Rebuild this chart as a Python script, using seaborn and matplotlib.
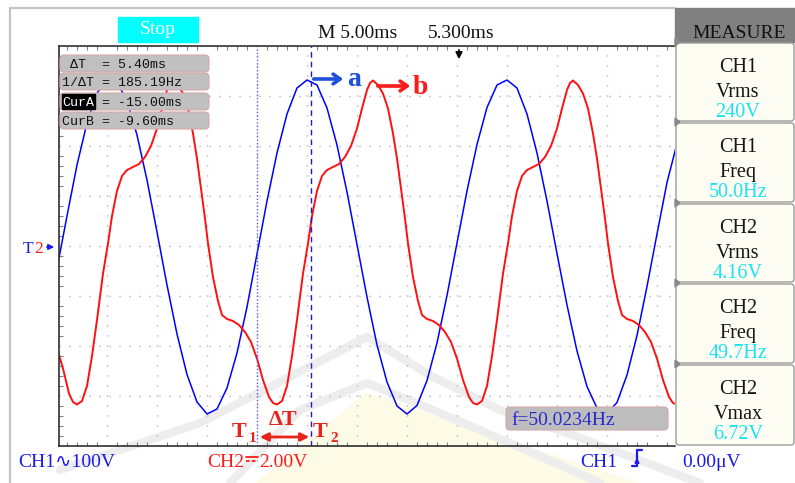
import matplotlib
matplotlib.use("Agg")
import matplotlib.pyplot as plt
import seaborn as sns
import numpy as np
from matplotlib.patches import Rectangle, FancyBboxPatch, Polygon

# ---- data (time in ms, value in divisions) ----
ch1_t = [-35, -34, -33, -32, -31, -30, -29, -28, -27, -26, -25, -24, -23, -22, -21, -20,
         -19, -18, -17, -16, -15, -14, -13, -12, -11, -10, -9, -8, -7, -6, -5, -4,
         -3, -2, -1, 0, 1, 2, 3, 4, 5, 6, 7, 8, 9, 10, 11, 12,
         13, 14, 15, 16, 17, 18, 19, 20, 21, 22, 23, 24, 25, 26, 27]
ch1_v = [-0.45, 0.60, 1.62, 2.46, 3.06, 3.32, 3.28, 2.90, 2.22, 1.32, 0.28, -0.78, -1.76, -2.57, -3.12, -3.36,
         -3.26, -2.84, -2.14, -1.22, -0.16, 0.90, 1.86, 2.64, 3.16, 3.32, 3.22, 2.76, 2.02, 1.08, 0.03, -1.02,
         -1.98, -2.72, -3.20, -3.36, -3.19, -2.69, -1.94, -0.99, 0.06, 1.10, 2.03, 2.77, 3.22, 3.32, 3.16, 2.64,
         1.86, 0.90, -0.15, -1.18, -2.10, -2.81, -3.24, -3.35, -3.13, -2.58, -1.79, -0.81, 0.24, 1.27, 2.05]

ch2_t = [-35.0, -34.4, -33.8, -33.4,
         -33.0, -32.5, -32.0, -31.5, -31.0, -30.4, -29.9, -29.5, -29.0, -28.5, -28.0, -27.4, -26.8, -26.2,
         -25.6, -25.0, -24.5, -24.0, -23.7, -23.4, -22.9, -22.4, -21.9, -21.4, -21.0, -20.6, -20.2, -19.9,
         -19.4, -18.9, -18.5, -18.0, -17.4, -16.8, -16.2, -15.6, -15.0, -14.4, -13.8, -13.4,
         -13.0, -12.5, -12.0, -11.5, -11.0, -10.4, -9.9, -9.5, -9.0, -8.5, -8.0, -7.4, -6.8, -6.2,
         -5.6, -5.0, -4.5, -4.0, -3.7, -3.4, -2.9, -2.4, -1.9, -1.4, -1.0, -0.6, -0.2, 0.1,
         0.6, 1.1, 1.5, 2.0, 2.6, 3.2, 3.8, 4.4, 5.0, 5.6, 6.2, 6.6,
         7.0, 7.5, 8.0, 8.5, 9.0, 9.6, 10.1, 10.5, 11.0, 11.5, 12.0, 12.6, 13.2, 13.8,
         14.4, 15.0, 15.5, 16.0, 16.3, 16.6, 17.1, 17.6, 18.1, 18.6, 19.0, 19.4, 19.8, 20.1,
         20.6, 21.1, 21.5, 22.0, 22.6, 23.2, 23.8, 24.4, 25.0, 25.6, 26.2, 26.6, 27.0]
ch2_v = [-2.05, -2.45, -2.95, -3.12,
         -3.17, -3.10, -2.80, -2.20, -1.48, -0.55, 0.05, 0.60, 1.10, 1.40, 1.52, 1.58, 1.64, 1.78,
         2.00, 2.35, 2.75, 3.12, 3.26, 3.31, 3.22, 3.05, 2.75, 2.25, 1.75, 1.15, 0.55, 0.05,
         -0.62, -1.10, -1.38, -1.46, -1.50, -1.58, -1.72, -1.92, -2.25, -2.68, -3.02, -3.14,
         -3.17, -3.10, -2.80, -2.20, -1.48, -0.55, 0.05, 0.60, 1.10, 1.40, 1.52, 1.58, 1.64, 1.78,
         2.00, 2.35, 2.75, 3.12, 3.26, 3.31, 3.22, 3.05, 2.75, 2.25, 1.75, 1.15, 0.55, 0.05,
         -0.62, -1.10, -1.38, -1.46, -1.50, -1.58, -1.72, -1.92, -2.25, -2.68, -3.02, -3.14,
         -3.17, -3.10, -2.80, -2.20, -1.48, -0.55, 0.05, 0.60, 1.10, 1.40, 1.52, 1.58, 1.64, 1.78,
         2.00, 2.35, 2.75, 3.12, 3.26, 3.31, 3.22, 3.05, 2.75, 2.25, 1.75, 1.15, 0.55, 0.05,
         -0.62, -1.10, -1.38, -1.46, -1.50, -1.58, -1.72, -1.92, -2.25, -2.68, -3.02, -3.14, -3.17]

cur_a = -15.00
cur_b = -9.60

cursor_rows = [" ΔT  = 5.40ms", "1/ΔT = 185.19Hz", "= -15.00ms", "CurB = -9.60ms"]
measure_rows = [("CH1", "Vrms", "240V"), ("CH1", "Freq", "50.0Hz"), ("CH2", "Vrms", "4.16V"),
                ("CH2", "Freq", "49.7Hz"), ("CH2", "Vmax", "6.72V")]

sns.set_style("white")
plt.rcParams['font.family'] = ['Liberation Serif', 'DejaVu Serif', 'DejaVu Sans']
SERIF = ['Liberation Serif', 'DejaVu Serif', 'DejaVu Sans']
MONO = ['Liberation Mono', 'DejaVu Sans Mono']
BLUE_T = '#1a1aee'
RED_T = '#ff1a1a'

fig = plt.figure(figsize=(7.95, 4.83), dpi=100)

# --- background layer: frame + faint watermark (pixel coords) ---
bg = fig.add_axes([0, 0, 1, 1], zorder=0)
bg.set_xlim(0, 795)
bg.set_ylim(483, 0)
bg.axis('off')
bg.add_patch(Polygon([(255, 483), (367, 392), (470, 428), (640, 483)], closed=True,
                     facecolor='#fdfae6', edgecolor='none'))
bg.plot([60, 200, 367, 433, 500, 567, 700], [470, 423, 337, 377, 410, 433, 483],
        color='#ededed', lw=6, solid_capstyle='round')
bg.plot([230, 300, 367, 433, 533, 600], [483, 410, 383, 410, 453, 483],
        color='#ededed', lw=6, solid_capstyle='round')
bg.plot([10, 10], [8, 483], color='#c4c4c4', lw=1.6)
bg.plot([10, 675], [8, 8], color='#c4c4c4', lw=1.6)

# --- waveform axes ---
ax = fig.add_axes([59 / 795, 1 - 446 / 483, 616 / 795, 400 / 483], zorder=1)
ax.patch.set_alpha(0)
sns.lineplot(x=ch1_t, y=ch1_v, ax=ax, color='#0000ff', lw=1.1, estimator=None)
sns.lineplot(x=ch2_t, y=ch2_v, ax=ax, color='#ff1010', lw=1.4, estimator=None)
ax.axvline(cur_a, color='#5a5aff', ls=(0, (1, 1.5)), lw=1.0)
ax.axvline(cur_b, color='#1a1ad8', ls=(0, (4, 3)), lw=1.0)
ax.set_xlim(-34.8, 26.8)
ax.set_ylim(-4, 4)
ax.set_xticks(np.arange(-30, 26, 5))
ax.set_yticks(np.arange(-3, 4, 1))
ax.set_xticks(np.arange(-34, 27, 1), minor=True)
ax.set_yticks(np.arange(-3.8, 4, 0.2), minor=True)
ax.grid(True, which='major', color='#a4a4a4', lw=1.0, ls=(0, (0.8, 6.4)))
ax.tick_params(which='major', length=0, labelbottom=False, labelleft=False)
ax.tick_params(which='minor', direction='in', length=3, color='#808080', width=0.8,
               top=True, bottom=True, left=True, right=False)
for side in ['left', 'top', 'bottom']:
    ax.spines[side].set_color('#303030')
    ax.spines[side].set_linewidth(1.2)
ax.spines['right'].set_visible(False)
ax.set_xlabel('')
ax.set_ylabel('')

# --- overlay layer: scope UI (pixel coords) ---
ov = fig.add_axes([0, 0, 1, 1], zorder=3)
ov.set_xlim(0, 795)
ov.set_ylim(483, 0)
ov.axis('off')
ov.patch.set_alpha(0)

# top bar
ov.add_patch(Rectangle((118, 17), 80, 25, color='#00ffff'))
ov.text(158, 30, 'Stop', color='white', ha='center', va='center', fontsize=14, family=SERIF)
ov.text(318, 38, 'M 5.00ms', color='#111111', fontsize=14, va='baseline', family=SERIF)
ov.text(428, 38, '5.300ms', color='#111111', fontsize=14, va='baseline', family=SERIF)
ov.annotate('', xy=(459, 62), xytext=(459, 47),
            arrowprops=dict(arrowstyle='-|>', color='black', lw=1.2, mutation_scale=10))

# right measure panel
ov.add_patch(Rectangle((675, 8), 120, 34, color='#808080'))
ov.text(739, 38, 'MEASURE', ha='center', va='baseline', fontsize=14, color='#111111', family=SERIF)
cell_tops = [42, 122, 203, 283, 364, 446]
for i, (ch, name, val) in enumerate(measure_rows):
    top = cell_tops[i]
    ov.add_patch(FancyBboxPatch((676, top + 1), 118, cell_tops[i + 1] - top - 2,
                                boxstyle='round,pad=0,rounding_size=3',
                                facecolor='#fdfdf4', edgecolor='#9a9a9a', lw=1.0))
    ov.add_patch(Polygon([(675, top - 4), (680, top), (675, top + 4)], color='#8a8a8a'))
    ov.text(738, top + 30, ch, ha='center', va='baseline', fontsize=14.5, color='#151515', family=SERIF)
    ov.text(738, top + 55, name, ha='center', va='baseline', fontsize=14.5, color='#151515', family=SERIF)
    ov.text(738, top + 75, val, ha='center', va='baseline', fontsize=14.5, color='#19e3f2', family=SERIF)

# cursor info box
row_tops = [55, 73, 93, 112]
row_x = [62, 62, 101.5, 62]
for top, x0, txt in zip(row_tops, row_x, cursor_rows):
    ov.add_patch(FancyBboxPatch((60, top), 149, 17, boxstyle='round,pad=0,rounding_size=4',
                                facecolor='#c0c0c0', edgecolor='#d4aaaa', lw=0.8))
    ov.text(x0, top + 13, txt, fontsize=9.5, va='baseline', color='#111111', family=MONO)
ov.add_patch(Rectangle((62, 94), 33, 15, color='black'))
ov.text(62, 106, 'CurA', fontsize=9.5, va='baseline', color='white', family=MONO)

# peak labels a / b
ov.annotate('', xy=(346, 79), xytext=(311, 79),
            arrowprops=dict(arrowstyle='->,head_length=0.5,head_width=0.35', color='#1e50d8', lw=2.6))
ov.text(347, 86, 'a', color='#1e50d8', fontsize=20, fontweight='bold', va='baseline', family=SERIF)
ov.annotate('', xy=(413, 86), xytext=(375, 86),
            arrowprops=dict(arrowstyle='->,head_length=0.5,head_width=0.35', color='#ff1a1a', lw=2.6))
ov.text(413, 94, 'b', color='#ff1a1a', fontsize=20, fontweight='bold', va='baseline', family=SERIF)

# delta-T marker
red_t = '#e8231c'
ov.annotate('', xy=(312, 437), xytext=(257, 437),
            arrowprops=dict(arrowstyle='<|-|>', color=red_t, lw=2.0, mutation_scale=12))
ov.text(232, 437, 'T', color=red_t, fontsize=16, fontweight='bold', va='baseline', family=SERIF)
ov.text(249, 442, '1', color=red_t, fontsize=11, fontweight='bold', va='baseline', family=SERIF)
ov.text(269, 425, 'ΔT', color=red_t, fontsize=16, fontweight='bold', va='baseline', family=SERIF)
ov.text(313, 437, 'T', color=red_t, fontsize=16, fontweight='bold', va='baseline', family=SERIF)
ov.text(330, 442, '2', color=red_t, fontsize=11, fontweight='bold', va='baseline', family=SERIF)

# frequency box
ov.add_patch(FancyBboxPatch((506, 407), 162, 23, boxstyle='round,pad=0,rounding_size=4',
                            facecolor='#bdbdbd', edgecolor='#d2a8a8', lw=0.8))
ov.text(511, 425, 'f=50.0234Hz', color='#2828d0', fontsize=14, va='baseline', family=SERIF)

# channel marker on the left
ov.text(23, 253, 'T', color=BLUE_T, fontsize=12.5, va='baseline', family=SERIF)
ov.text(34.5, 253, '2', color=RED_T, fontsize=12.5, va='baseline', family=SERIF)
ov.annotate('', xy=(57, 247), xytext=(44, 247),
            arrowprops=dict(arrowstyle='-|>', color=BLUE_T, lw=1.2, mutation_scale=8))

# bottom status line
ov.text(18, 467, 'CH1∿100V', color=BLUE_T, fontsize=14, va='baseline', family=SERIF)
ov.text(207, 467, 'CH2', color=RED_T, fontsize=14, va='baseline', family=SERIF)
# DC coupling sign (solid over dashed), no installed font has it
ov.plot([246, 258], [457, 457], color=RED_T, lw=1.3)
ov.plot([246, 258], [461, 461], color=RED_T, lw=1.3, ls=(0, (2, 1.2)))
ov.text(259, 467, '2.00V', color=RED_T, fontsize=14, va='baseline', family=SERIF)
ov.text(580, 467, 'CH1', color=BLUE_T, fontsize=14, va='baseline', family=SERIF)
ov.plot([632, 637, 637, 642], [466, 466, 450, 450], color=BLUE_T, lw=1.6)
ov.annotate('', xy=(637, 455), xytext=(637, 462),
            arrowprops=dict(arrowstyle='-|>', color=BLUE_T, lw=1.0, mutation_scale=7))
ov.text(682, 467, '0.00μV', color=BLUE_T, fontsize=14, va='baseline', family=SERIF)

fig.savefig("out.png", dpi=100)
